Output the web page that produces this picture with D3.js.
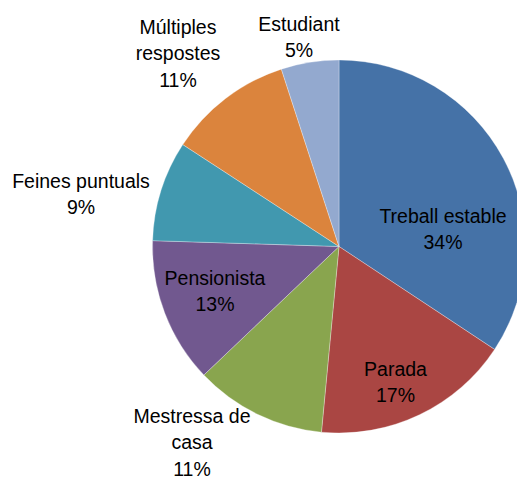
<!DOCTYPE html>
<html><head><meta charset="utf-8">
<script src="https://cdn.jsdelivr.net/npm/d3@7"></script>
<style>body{margin:0;background:#fff}svg{display:block}</style>
</head><body>
<svg id="c" width="517" height="479"></svg>
<script>
const categories = ["Treball estable","Parada","Mestressa de casa","Pensionista","Feines puntuals","Múltiples respostes","Estudiant"];
const values = [34.3, 17.2, 11.4, 12.6, 8.7, 10.8, 5.0];
const colors = ["#4572A7","#AA4643","#89A54E","#71588F","#4198AF","#DB843D","#93A9CF"];
// label lines (text split as in the chart)
const labelLines = [["Treball estable"],["Parada"],["Mestressa de","casa"],["Pensionista"],["Feines puntuals"],["Múltiples","respostes"],["Estudiant"]];
// label anchor (center x, first baseline y) per slice
const labelPos = [[443,222.5],[395.5,375.5],[192,423],[215,284.5],[81,187.5],[178,34],[299,31]];

const svg = d3.select("#c");
const cx = 339, cy = 246.5, r = 186.5;
const total = d3.sum(values);
const pie = d3.pie().sort(null).value(d => d)(values);
const arc = d3.arc().innerRadius(0).outerRadius(r);
const g = svg.append("g").attr("transform", `translate(${cx},${cy})`);
g.selectAll("path").data(pie).enter().append("path")
  .attr("d", arc)
  .attr("fill", (d,i) => colors[i])
  .attr("stroke", "#ffffff").attr("stroke-width", 0.6).attr("stroke-opacity", 0.5);

const lh = 26.4;
labelLines.forEach((lines, i) => {
  const all = lines.concat([Math.round(values[i] / total * 100) + "%"]);
  const t = svg.append("text")
    .attr("text-anchor", "middle")
    .attr("font-family", "'Liberation Sans', Arial, sans-serif")
    .attr("font-size", 19.5)
    .attr("fill", "#000");
  all.forEach((s, k) => {
    t.append("tspan").attr("x", labelPos[i][0]).attr("y", labelPos[i][1] + k * lh).text(s);
  });
});
</script>
</body></html>
